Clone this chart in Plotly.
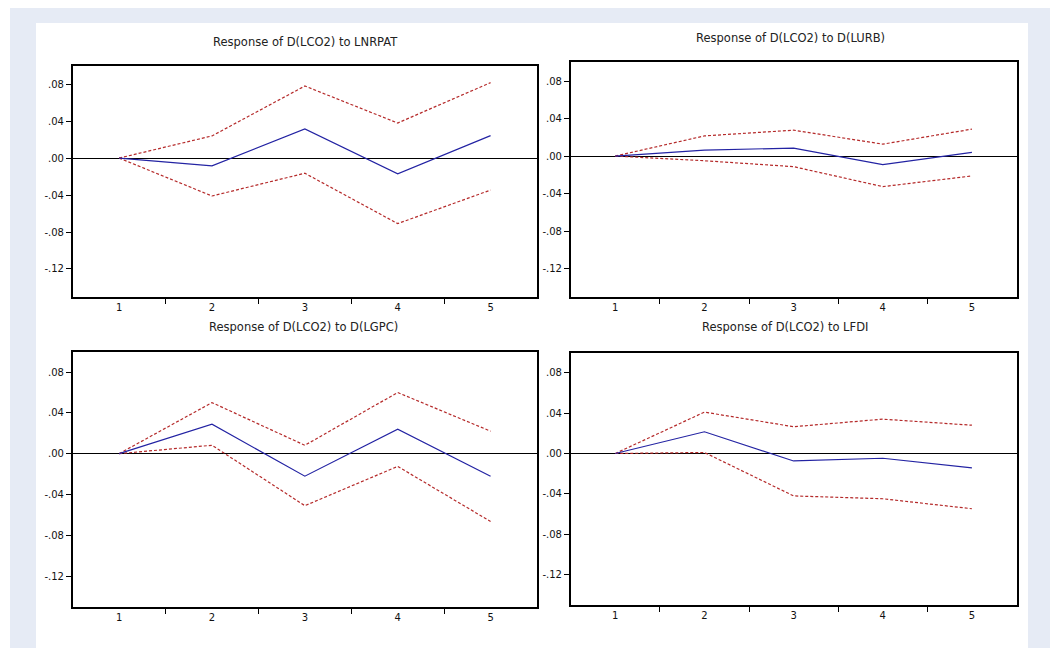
import plotly.graph_objects as go

# The page body adds an 8px margin, so the figure is drawn 8px in from the window edge.
OFF = 8
W, H = 1058 - OFF, 648 - OFF

periods = [1, 2, 3, 4, 5]

lnrpat_resp = [0.0, -0.0084, 0.0316, -0.0171, 0.0243]
lnrpat_upper = [0.0, 0.0240, 0.0780, 0.0380, 0.0817]
lnrpat_lower = [0.0, -0.0410, -0.0164, -0.0709, -0.0346]

lurb_resp = [0.0, 0.0064, 0.0085, -0.0092, 0.0039]
lurb_upper = [0.0, 0.0215, 0.0276, 0.0127, 0.0287]
lurb_lower = [0.0, -0.0050, -0.0113, -0.0326, -0.0212]

lgpc_resp = [0.0, 0.0289, -0.0221, 0.0240, -0.0221]
lgpc_upper = [0.0, 0.0500, 0.0082, 0.0599, 0.0220]
lgpc_lower = [0.0, 0.0082, -0.0510, -0.0125, -0.0665]

lfdi_resp = [0.0, 0.0215, -0.0074, -0.0047, -0.0143]
lfdi_upper = [0.0, 0.0410, 0.0265, 0.0340, 0.0280]
lfdi_lower = [0.0, 0.0010, -0.0420, -0.0448, -0.0547]

titles = [
    "Response of D(LCO2) to LNRPAT",
    "Response of D(LCO2) to D(LURB)",
    "Response of D(LCO2) to D(LGPC)",
    "Response of D(LCO2) to LFDI",
]

y_tickvals = [-0.12, -0.08, -0.04, 0.0, 0.04, 0.08]
y_ticktext = ["-.12", "-.08", "-.04", ".00", ".04", ".08"]
x_ticktext = ["1", "2", "3", "4", "5"]

panels = [
    (lnrpat_resp, lnrpat_upper, lnrpat_lower),
    (lurb_resp, lurb_upper, lurb_lower),
    (lgpc_resp, lgpc_upper, lgpc_lower),
    (lfdi_resp, lfdi_upper, lfdi_lower),
]

# pixel boxes in window coordinates (left, right, top, bottom)
boxes = [
    (72.7, 537.0, 65.7, 296.7),
    (570.7, 1016.5, 62.3, 296.7),
    (72.7, 537.0, 351.6, 606.7),
    (570.7, 1016.5, 352.5, 605.0),
]
title_pos = [(305, 42), (790, 38), (303, 327), (785, 327)]

BLUE = "#2323a3"
RED = "#b52a2a"


def px(x):
    return (x - OFF) / W


def py(y):
    return 1 - (y - OFF) / H


fig = go.Figure()
layout = {}
for i, ((resp, up, lo), (l, r, t, b)) in enumerate(zip(panels, boxes)):
    n = "" if i == 0 else str(i + 1)
    xa, ya = "x" + n, "y" + n
    for series, color, dash, wd in ((up, RED, "3px,2px", 1.2), (lo, RED, "3px,2px", 1.2),
                                    (resp, BLUE, "solid", 1.2)):
        fig.add_trace(go.Scatter(x=periods, y=series, mode="lines", xaxis=xa, yaxis=ya,
                                 line=dict(color=color, width=wd, dash=dash),
                                 showlegend=False, hoverinfo="skip"))
    layout["xaxis" + n] = dict(
        domain=[px(l), px(r)], anchor=ya, range=[0.5, 5.5],
        tickmode="array", tickvals=periods, ticktext=x_ticktext, ticks="",
        minor=dict(tickmode="array", tickvals=[1.5, 2.5, 3.5, 4.5], ticks="outside",
                   ticklen=5, tickwidth=1.3, tickcolor="black", showgrid=False),
        showgrid=False, zeroline=False, showline=True, mirror=True,
        linecolor="black", linewidth=1.6,
        tickfont=dict(family="DejaVu Sans", size=10, color="#111"),
        fixedrange=True,
    )
    layout["yaxis" + n] = dict(
        domain=[py(b), py(t)], anchor=xa, range=[-0.15, 0.10],
        tickmode="array", tickvals=y_tickvals, ticktext=y_ticktext,
        ticks="outside", ticklen=5, tickwidth=1.3, tickcolor="black",
        showgrid=False, zeroline=True, zerolinecolor="black", zerolinewidth=1.2,
        showline=True, mirror=True, linecolor="black", linewidth=1.6,
        tickfont=dict(family="DejaVu Sans", size=10, color="#111"),
        fixedrange=True,
    )

annotations = []
for txt, (cx, cy) in zip(titles, title_pos):
    annotations.append(dict(text=txt, x=px(cx), y=py(cy), xref="paper", yref="paper",
                            xanchor="center", yanchor="middle", showarrow=False,
                            font=dict(family="DejaVu Sans", size=11.5, color="#222")))

shapes = [
    dict(type="rect", xref="paper", yref="paper", x0=px(10), x1=1.0, y0=0, y1=py(8),
         fillcolor="#e6ebf5", line=dict(width=0), layer="below"),
    dict(type="rect", xref="paper", yref="paper", x0=px(36), x1=px(1028), y0=0, y1=py(23),
         fillcolor="white", line=dict(width=0), layer="below"),
]

fig.update_layout(
    width=W, height=H, margin=dict(l=0, r=0, t=0, b=0),
    paper_bgcolor="white", plot_bgcolor="rgba(0,0,0,0)",
    annotations=annotations, shapes=shapes, **layout,
)

fig.write_html("out.html")
